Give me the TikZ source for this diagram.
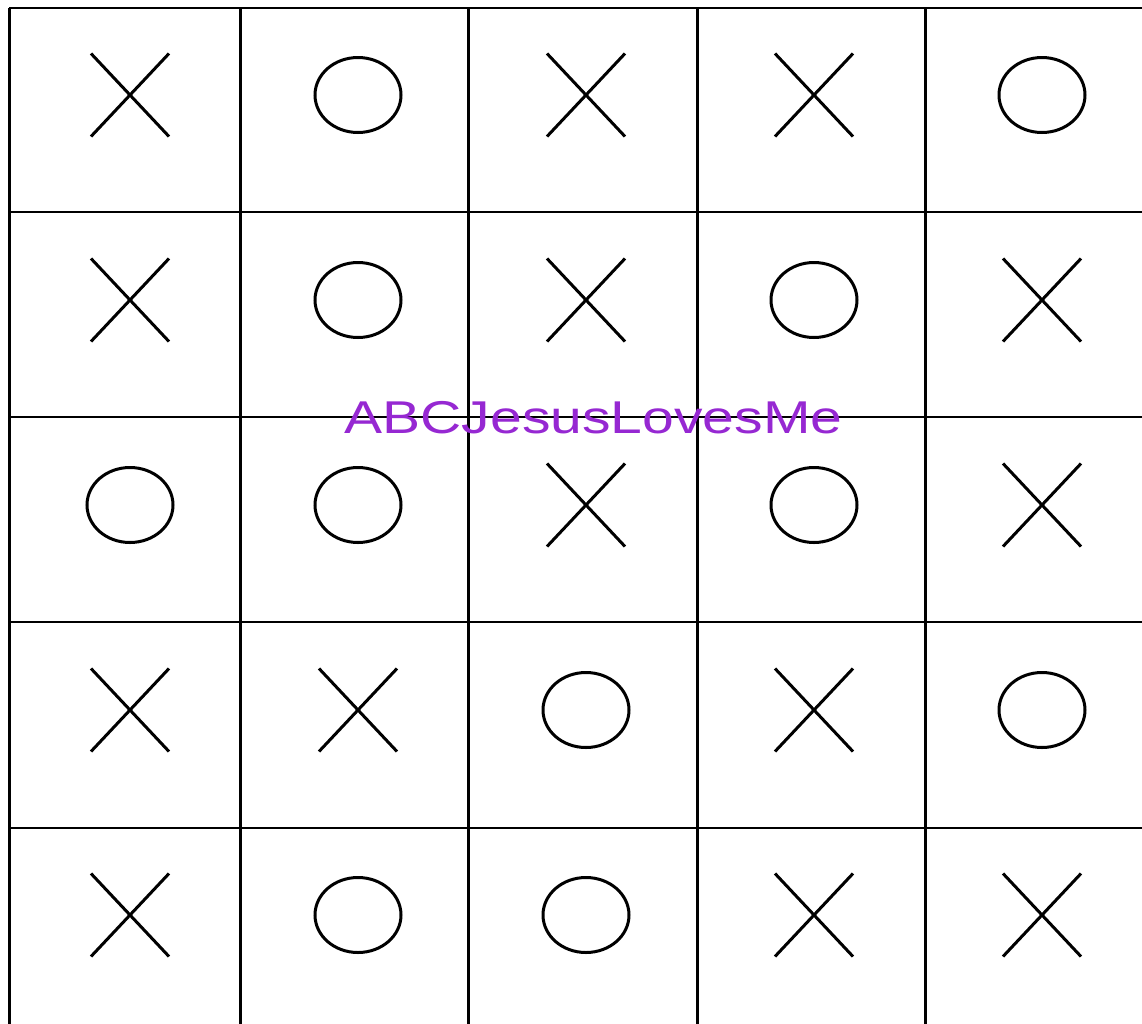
\documentclass[tikz,border=0pt]{standalone}
\usepackage{fontspec}
\newfontfamily\labelfont{Liberation Sans}
\usepackage{tikz}
\usetikzlibrary{shapes.geometric, shapes.misc}
\definecolor{labelpurple}{RGB}{150,40,210}
\tikzstyle{xmark}  = [cross out, draw=black, line width=1.5pt, inner sep=0pt,
                      minimum width=37.5pt, minimum height=40pt]
\tikzstyle{omark}  = [ellipse, draw=black, line width=1.5pt, inner sep=0pt,
                      minimum width=43pt, minimum height=37.5pt]
\tikzstyle{vline}  = [line width=1.5pt]
\tikzstyle{hline}  = [line width=1.2pt]
\tikzstyle{banner} = [font=\labelfont\fontsize{23}{28}\selectfont, text=labelpurple,
                      xscale=1.24, anchor=base, inner sep=0pt]
\begin{document}
\begin{tikzpicture}[x=0.5pt, y=-0.5pt]
  \useasboundingbox (0,0) rectangle (1142,1024);

  % Grid
  \foreach \gx in {9,240,468,697,925}
    \draw[vline] (\gx,8) -- (\gx,1024);
  \foreach \gy in {8,212,417,622,828}
    \draw[hline] (9,\gy) -- (1142,\gy);

  % Marks
  \foreach \row/\marks in {1/{x,o,x,x,o}, 2/{x,o,x,o,x}, 3/{o,o,x,o,x},
                           4/{x,x,o,x,o}, 5/{x,o,o,x,x}}
    \foreach \m [count=\col] in \marks
      \node[\m mark] (m\row\col) at ({130+(\col-1)*228}, {95+(\row-1)*205}) {};

  % Label
  \node[banner] (label) at (593.5,433) {ABCJesusLovesMe};

\end{tikzpicture}
\end{document}
